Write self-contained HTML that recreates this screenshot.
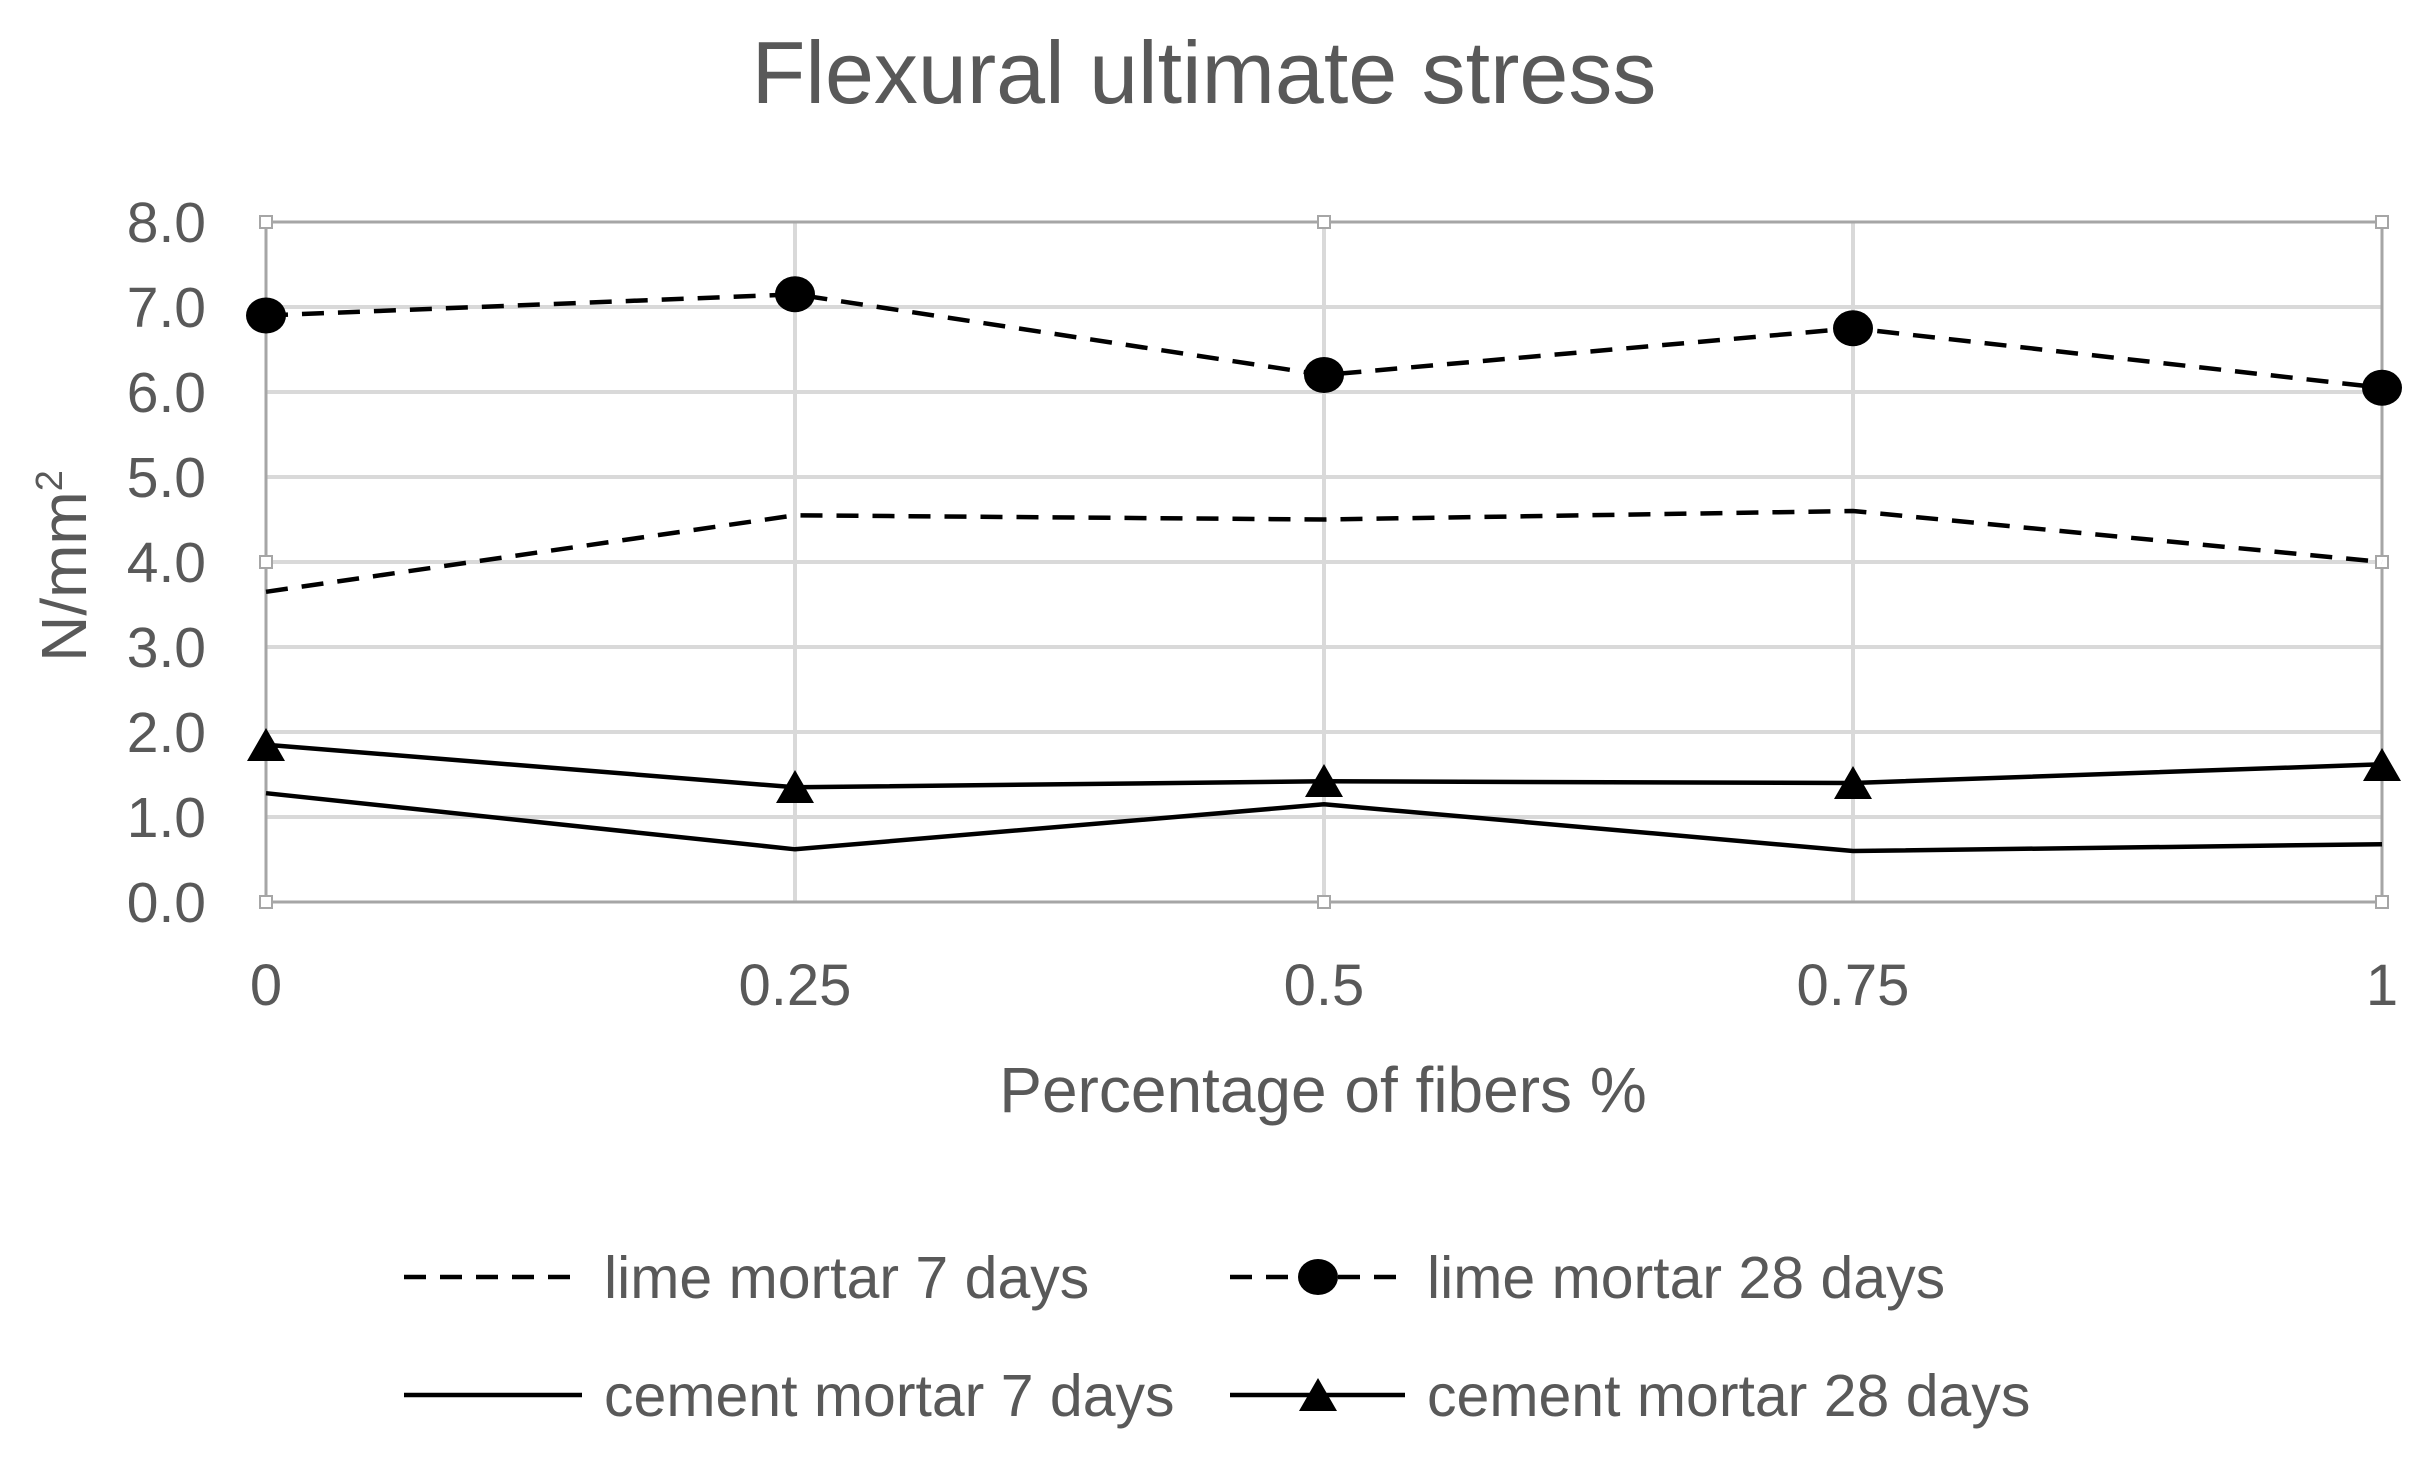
<!DOCTYPE html>
<html><head><style>body{margin:0;background:#fff}</style></head><body>
<svg width="2436" height="1452" xmlns="http://www.w3.org/2000/svg" font-family="Liberation Sans, sans-serif" fill="#595959">
<rect width="2436" height="1452" fill="#fff"/>
<text x="1204" y="103" font-size="88" text-anchor="middle">Flexural ultimate stress</text>
<g stroke="#d9d9d9" stroke-width="4">
<line x1="266" y1="307" x2="2382" y2="307"/><line x1="266" y1="392" x2="2382" y2="392"/>
<line x1="266" y1="477" x2="2382" y2="477"/><line x1="266" y1="562" x2="2382" y2="562"/>
<line x1="266" y1="647" x2="2382" y2="647"/><line x1="266" y1="732" x2="2382" y2="732"/>
<line x1="266" y1="817" x2="2382" y2="817"/>
<line x1="795" y1="222" x2="795" y2="902"/><line x1="1324" y1="222" x2="1324" y2="902"/><line x1="1853" y1="222" x2="1853" y2="902"/>
</g>
<rect x="266" y="222" width="2116" height="680" fill="none" stroke="#a6a6a6" stroke-width="3"/>
<g fill="#fff" stroke="#a6a6a6" stroke-width="2">
<rect x="260" y="216" width="12" height="12"/><rect x="1318" y="216" width="12" height="12"/><rect x="2376" y="216" width="12" height="12"/>
<rect x="260" y="556" width="12" height="12"/><rect x="2376" y="556" width="12" height="12"/>
<rect x="260" y="896" width="12" height="12"/><rect x="1318" y="896" width="12" height="12"/><rect x="2376" y="896" width="12" height="12"/>
</g>
<g font-size="57" text-anchor="end">
<text x="206" y="242">8.0</text><text x="206" y="327">7.0</text><text x="206" y="412">6.0</text>
<text x="206" y="497">5.0</text><text x="206" y="582">4.0</text><text x="206" y="667">3.0</text>
<text x="206" y="752">2.0</text><text x="206" y="837">1.0</text><text x="206" y="922">0.0</text>
</g>
<g font-size="58" text-anchor="middle">
<text x="266" y="1005">0</text><text x="795" y="1005">0.25</text><text x="1324" y="1005">0.5</text>
<text x="1853" y="1005">0.75</text><text x="2382" y="1005">1</text>
</g>
<text x="1323" y="1112" font-size="64" text-anchor="middle">Percentage of fibers %</text>
<text transform="translate(86,566) rotate(-90)" font-size="64" text-anchor="middle">N/mm<tspan font-size="38" dy="-24">2</tspan></text>
<g fill="none" stroke="#000" stroke-width="4.5">
<polyline stroke-dasharray="22,14" points="266,315.5 795,294.3 1324,375 1853,328.3 2382,387.8"/>
<polyline stroke-dasharray="22,14" points="266,591.8 795,515.3 1324,519.5 1853,511 2382,562"/>
<polyline points="266,744.8 795,787.3 1324,781.3 1853,783 2382,764.3"/>
<polyline points="266,793.2 795,849.3 1324,804.3 1853,851 2382,844.2"/>
</g>
<g fill="#000">
<ellipse cx="266" cy="315.5" rx="20" ry="18"/><ellipse cx="795" cy="294.3" rx="20" ry="18"/>
<ellipse cx="1324" cy="375" rx="20" ry="18"/><ellipse cx="1853" cy="328.3" rx="20" ry="18"/><ellipse cx="2382" cy="387.8" rx="20" ry="18"/>
<path d="M266,728 l-19,33 h38z M795,770 l-19,33 h38z M1324,764 l-19,33 h38z M1853,766 l-19,33 h38z M2382,748 l-19,33 h38z"/>
</g>
<g stroke="#000" stroke-width="4.5">
<line x1="404" y1="1277" x2="582" y2="1277" stroke-dasharray="22,14"/>
<line x1="1230" y1="1277" x2="1405" y2="1277" stroke-dasharray="22,14"/>
<line x1="404" y1="1395" x2="582" y2="1395"/>
<line x1="1230" y1="1395" x2="1405" y2="1395"/>
</g>
<ellipse cx="1318" cy="1277" rx="20" ry="18" fill="#000"/>
<path d="M1318,1378 l-19,33 h38z" fill="#000"/>
<g font-size="59">
<text x="604" y="1298">lime mortar 7 days</text>
<text x="1427" y="1298">lime mortar 28 days</text>
<text x="604" y="1416">cement mortar 7 days</text>
<text x="1427" y="1416">cement mortar 28 days</text>
</g>
</svg>
</body></html>
